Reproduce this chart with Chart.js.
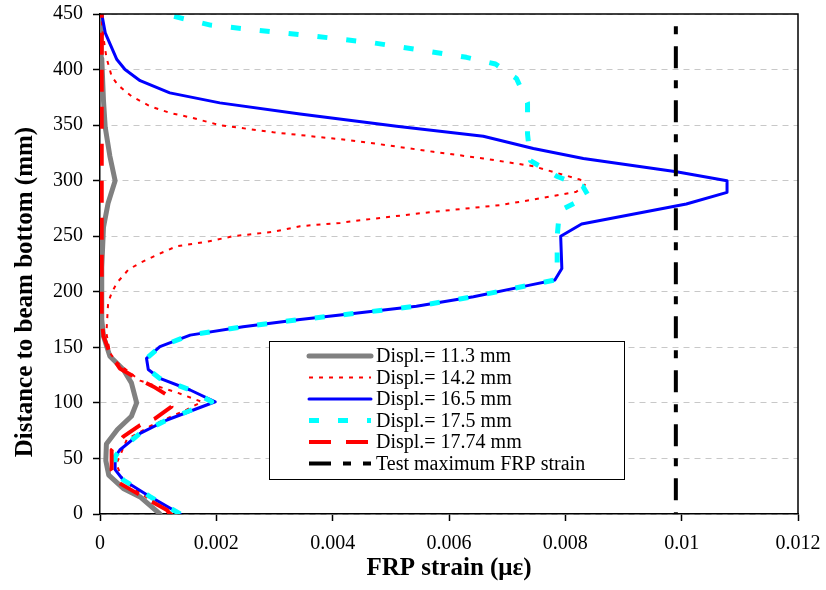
<!DOCTYPE html>
<html><head><meta charset="utf-8">
<script src="https://cdn.jsdelivr.net/npm/chart.js@4/dist/chart.umd.min.js"></script>
<style>html,body{margin:0;padding:0;background:#fff}#wrap{width:826px;height:590px}</style>
</head><body><div id="wrap"><canvas id="c" width="826" height="590"></canvas></div>
<script>
// ---- data: [strain, distance(mm)] ----
const seriesLabels = ["Displ.= 11.3 mm","Displ.= 14.2 mm","Displ.= 16.5 mm","Displ.= 17.5 mm","Displ.= 17.74 mm","Test maximum FRP strain"];
const disp113 = [[0.00103,0],[0.0007,15],[0.0004,23],[0.00015,35],[0.0001,48],[0.00011,63],[0.0003,76],[0.00054,88],[0.00063,100],[0.00054,118],[0.0004,130],[0.00017,142],[0.00006,160],[0.00003,175],[0.00003,222],[0.00006,258],[0.00014,280],[0.00026,300],[0.00017,322],[0.00009,348],[0.00006,372],[0.00003,410],[0.00002,450]];
const disp142 = [[0.00125,0],[0.0008,15],[0.0004,30],[0.00028,45],[0.00034,52],[0.00046,67],[0.00086,79],[0.00149,94],[0.00175,101],[0.00134,109],[0.00069,120],[0.0003,136],[0.00017,145],[0.00011,163],[0.00014,190],[0.0002,199],[0.00029,208],[0.00049,220],[0.00069,226],[0.00097,233],[0.00132,241],[0.00183,245],[0.00229,250],[0.00298,254],[0.00344,259],[0.00413,262],[0.00458,265],[0.00573,272],[0.00688,278],[0.00756,284],[0.00819,290],[0.00835,297],[0.00825,301],[0.00745,313],[0.00659,320],[0.00573,326],[0.00458,334.5],[0.0041,337.5],[0.00298,343.5],[0.00206,350],[0.00155,357],[0.0012,361],[0.00086,367],[0.00054,376],[0.00031,386],[0.0002,394],[0.00011,411],[0.00005,432],[0.00002,450]];
const disp165 = [[0.00138,0],[0.00086,15.6],[0.0004,30.6],[0.00026,40],[0.00026,51.6],[0.00034,57.6],[0.00069,72.6],[0.00115,84.6],[0.00198,101],[0.00155,111.6],[0.00103,122],[0.00083,130],[0.0008,140],[0.00103,150.6],[0.00155,161],[0.00246,168.6],[0.00344,175],[0.00413,179],[0.00544,187],[0.00642,195.6],[0.00739,206],[0.00782,210.6],[0.00794,221],[0.00792,250],[0.00828,261],[0.01008,279],[0.01078,289.5],[0.01078,300],[0.00991,308],[0.00831,320],[0.00745,329],[0.00659,340],[0.0051,349],[0.00344,360],[0.00206,370],[0.0012,379],[0.00069,390],[0.00043,400],[0.00029,409],[0.00009,433],[0.00003,450]];
const disp175 = [[0.00138,0],[0.00086,15.6],[0.0004,30.6],[0.00026,40],[0.00026,51.6],[0.00034,57.6],[0.00069,72.6],[0.00115,84.6],[0.00192,101],[0.00155,111.6],[0.00103,122],[0.00083,130],[0.0008,140],[0.00103,150.6],[0.00155,161],[0.00246,168.6],[0.00344,175],[0.00413,179],[0.00544,187],[0.00642,195.6],[0.00739,206],[0.00782,210.6],[0.00786,221],[0.00786,250],[0.0079,273],[0.0084,286],[0.0083,295],[0.00785,304],[0.0074,318],[0.00735,342],[0.00735,370],[0.00716,392],[0.0068,405],[0.0063,411],[0.0057,416],[0.0047,424],[0.0037,430],[0.0026,436],[0.0019,440],[0.0011,450]];
const disp1774 = [[0.0012,0],[0.00115,3.6],[0.00069,17],[0.00034,27.6],[0.0002,39.6],[0.0002,57.6],[0.0004,69.6],[0.00069,80],[0.00095,86],[0.00123,96.6],[0.0012,105.6],[0.00092,114.6],[0.00069,120.6],[0.00034,131],[0.00017,144.6],[0.00006,160],[0.00003,175],[0.00003,450]];
const testMax = [[0.0099,439],[0.0099,0]];
const xTicks = [0,0.002,0.004,0.006,0.008,0.01,0.012];
const yTicks = [0,50,100,150,200,250,300,350,400,450];

const toPts = a => a.map(p => ({x:p[0], y:p[1]}));
const styles = [
  {borderColor:'#808080', borderWidth:5, borderDash:[], borderCapStyle:'round'},
  {borderColor:'#ff0000', borderWidth:2, borderDash:[4,6], borderCapStyle:'butt'},
  {borderColor:'#0000ff', borderWidth:3, borderDash:[], borderCapStyle:'round'},
  {borderColor:'#00ffff', borderWidth:5, borderDash:[10,19], borderCapStyle:'butt'},
  {borderColor:'#ff0000', borderWidth:4, borderDash:[22,15], borderCapStyle:'butt'},
  {borderColor:'#000000', borderWidth:4, borderDash:[8,12,22,12], borderCapStyle:'butt', legendDashOffset:20}
];
const allSeries = [disp113, disp142, disp165, disp175, disp1774, testMax];
const datasets = allSeries.map((s,i) => Object.assign({
  label: seriesLabels[i], data: toPts(s), showLine:true, pointRadius:0, pointHoverRadius:0,
  tension:0, fill:false, borderJoinStyle:'round', order: 10 - i
}, styles[i]));

const FONT = '"Liberation Serif", "Times New Roman", serif';

const framePlugin = {
  id:'frame',
  afterDatasetsDraw(chart){
    const {ctx, chartArea:a} = chart;
    ctx.save();
    ctx.strokeStyle = '#000'; ctx.lineWidth = 1.5; ctx.setLineDash([]);
    ctx.beginPath();
    ctx.moveTo(a.left, a.top); ctx.lineTo(a.right, a.top); ctx.lineTo(a.right, a.bottom);
    ctx.stroke();
    // legend box
    const bx = 269.5, by = 341.5, bw = 355, bh = 138;
    ctx.fillStyle = '#fff'; ctx.fillRect(bx, by, bw, bh);
    ctx.lineWidth = 1; ctx.strokeRect(bx, by, bw, bh);
    chart.data.datasets.forEach((ds, i) => {
      const yy = 356 + i * 21.5;
      ctx.beginPath();
      ctx.setLineDash(ds.borderDash || []);
      ctx.lineDashOffset = ds.legendDashOffset || 0;
      ctx.lineCap = ds.borderCapStyle || 'butt';
      ctx.strokeStyle = ds.borderColor; ctx.lineWidth = ds.borderWidth;
      ctx.moveTo(309, yy); ctx.lineTo(371, yy); ctx.stroke();
      ctx.setLineDash([]); ctx.lineDashOffset = 0;
      ctx.fillStyle = '#000'; ctx.font = '20px ' + FONT; ctx.textBaseline = 'middle'; ctx.textAlign = 'left';
      ctx.fillText(ds.label, 376, yy + 1);
    });
    ctx.restore();
  }
};

const zeroPad = s => { s.paddingLeft = 0; s.paddingRight = 0; s.paddingTop = 0; s.paddingBottom = 0; };

new Chart(document.getElementById('c'), {
  type:'scatter',
  data:{datasets},
  plugins:[framePlugin],
  options:{
    responsive:false, animation:false, events:[],
    layout:{padding:{top:14, right:28, left:0, bottom:0}},
    plugins:{legend:{display:false}, tooltip:{enabled:false}},
    scales:{
      x:{
        type:'linear', min:0, max:0.012,
        afterBuildTicks: s => { s.ticks = xTicks.map(v => ({value:v})); },
        afterFit: s => { s.height = 76; zeroPad(s); },
        grid:{drawOnChartArea:false, tickColor:'#000', tickLength:7, tickWidth:1.5},
        border:{color:'#000', width:1.5},
        ticks:{color:'#000', font:{family:FONT, size:20}, padding:11, maxRotation:0,
          callback: v => String(+Number(v).toFixed(3))},
        title:{display:true, text:'FRP strain (με)', color:'#000',
          font:{family:FONT, size:25, weight:'bold'}, padding:{top:0, bottom:6}}
      },
      y:{
        type:'linear', min:0, max:450,
        afterBuildTicks: s => { s.ticks = yTicks.map(v => ({value:v})); },
        afterFit: s => { s.width = 100; zeroPad(s); },
        grid:{color:'#c8c8c8', lineWidth:1, tickColor:'#000', tickLength:7, tickWidth:1.5},
        border:{color:'#000', width:1.5, dash:[6,5]},
        ticks:{color:'#000', font:{family:FONT, size:20}, padding:10},
        title:{display:true, text:'Distance to beam bottom (mm)\u00a0\u00a0\u00a0\u00a0\u00a0\u00a0\u00a0\u00a0\u00a0', color:'#000',
          font:{family:FONT, size:25, weight:'bold'}, padding:{top:11, bottom:0}}
      }
    }
  }
});
</script></body></html>
